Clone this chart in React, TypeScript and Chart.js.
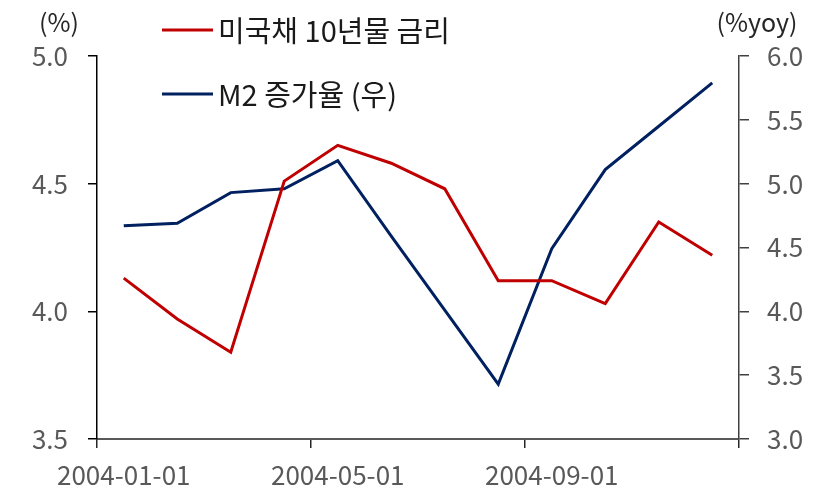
import { useEffect, useRef } from 'react';
import { Chart, registerables } from 'chart.js';

Chart.register(...registerables);

const categories = [
  '2004-01-01', '2004-02-01', '2004-03-01', '2004-04-01', '2004-05-01', '2004-06-01',
  '2004-07-01', '2004-08-01', '2004-09-01', '2004-10-01', '2004-11-01', '2004-12-01',
];
const treasury10y = [4.13, 3.97, 3.84, 4.51, 4.65, 4.58, 4.48, 4.12, 4.12, 4.03, 4.35, 4.22];
const m2Growth = [4.67, 4.69, 4.93, 4.96, 5.18, 4.59, 4.01, 3.43, 4.49, 5.11, 5.45, 5.79];
const leftTicks = [3.5, 4.0, 4.5, 5.0];
const rightTicks = [3.0, 3.5, 4.0, 4.5, 5.0, 5.5, 6.0];
const seriesLabels = ['미국채 10년물 금리', 'M2 증가율 (우)'];
const axisTitles = ['(%)', '(%yoy)'];

const FONT = '"Noto Sans CJK KR", "Noto Sans", sans-serif';
const RED = '#C00000';
const NAVY = '#002060';

const overlayPlugin = {
  id: 'overlay',
  afterDraw(chart: any) {
    const ctx = chart.ctx;
    ctx.save();
    ctx.font = `25px ${FONT}`;
    ctx.textBaseline = 'middle';
    ctx.fillStyle = '#262626';
    ctx.textAlign = 'center';
    ctx.fillText(axisTitles[0], 59, 22);
    ctx.fillText(axisTitles[1], 757, 22);
    const rows = [30, 94];
    ctx.font = `29px ${FONT}`;
    chart.data.datasets.forEach((ds: any, i: number) => {
      const y = rows[i];
      ctx.strokeStyle = ds.borderColor;
      ctx.lineWidth = 3;
      ctx.beginPath();
      ctx.moveTo(162, y);
      ctx.lineTo(213, y);
      ctx.stroke();
      ctx.textAlign = 'left';
      ctx.fillStyle = '#1a1a1a';
      ctx.fillText(ds.label, 218, y + 1);
    });
    ctx.restore();
  },
};

export default function App() {
  const ref = useRef<HTMLCanvasElement | null>(null);
  useEffect(() => {
    document.body.style.margin = '0';
    const canvas = ref.current;
    if (!canvas) return;
    const chart = new Chart(canvas, {
      type: 'line',
      data: {
        labels: categories,
        datasets: [
          {
            label: seriesLabels[0],
            data: treasury10y,
            borderColor: RED,
            backgroundColor: RED,
            borderWidth: 3,
            pointRadius: 0,
            tension: 0,
            yAxisID: 'y',
          },
          {
            label: seriesLabels[1],
            data: m2Growth,
            borderColor: NAVY,
            backgroundColor: NAVY,
            borderWidth: 3,
            pointRadius: 0,
            tension: 0,
            yAxisID: 'y1',
          },
        ],
      },
      options: {
        responsive: false,
        animation: false,
        layout: { padding: { top: 56, left: 0, right: 0, bottom: 0 } },
        plugins: { legend: { display: false }, tooltip: { enabled: false } },
        scales: {
          x: {
            type: 'category',
            offset: true,
            afterFit: (s: any) => { s.height = 51; },
            border: { color: '#595959', width: 2 },
            grid: {
              offset: true,
              drawOnChartArea: false,
              tickLength: 9,
              lineWidth: 1.5,
              tickColor: (c: any) =>
                c.index === undefined || c.index % 4 === 0 ? '#262626' : 'rgba(0,0,0,0)',
            },
            ticks: {
              autoSkip: false,
              maxRotation: 0,
              padding: 12,
              color: '#595959',
              font: { family: FONT, size: 26 },
              callback: (_v: any, i: number) => (i % 4 === 0 ? categories[i] : ''),
            },
          },
          y: {
            position: 'left',
            min: 3.5,
            max: 5.0,
            afterFit: (s: any) => { s.width = 97; },
            afterBuildTicks: (s: any) => { s.ticks = leftTicks.map((v) => ({ value: v })); },
            border: { color: '#000000', width: 1.5 },
            grid: { drawOnChartArea: false, tickLength: 9, lineWidth: 1.5, color: '#000000' },
            ticks: {
              padding: 20,
              color: '#595959',
              font: { family: FONT, size: 26 },
              callback: (v: any) => Number(v).toFixed(1),
            },
          },
          y1: {
            position: 'right',
            min: 3.0,
            max: 6.0,
            afterFit: (s: any) => { s.width = 78; },
            afterBuildTicks: (s: any) => { s.ticks = rightTicks.map((v) => ({ value: v })); },
            border: { color: '#404040', width: 1.5 },
            grid: { drawOnChartArea: false, tickLength: 10, lineWidth: 1.5, color: '#404040' },
            ticks: {
              padding: 18,
              color: '#595959',
              font: { family: FONT, size: 26 },
              callback: (v: any) => Number(v).toFixed(1),
            },
          },
        },
      },
      plugins: [overlayPlugin],
    } as any);
    return () => chart.destroy();
  }, []);
  return (
    <div style={{ width: 817, height: 490 }}>
      <canvas ref={ref} width={817} height={490} style={{ width: 817, height: 490 }} />
    </div>
  );
}
